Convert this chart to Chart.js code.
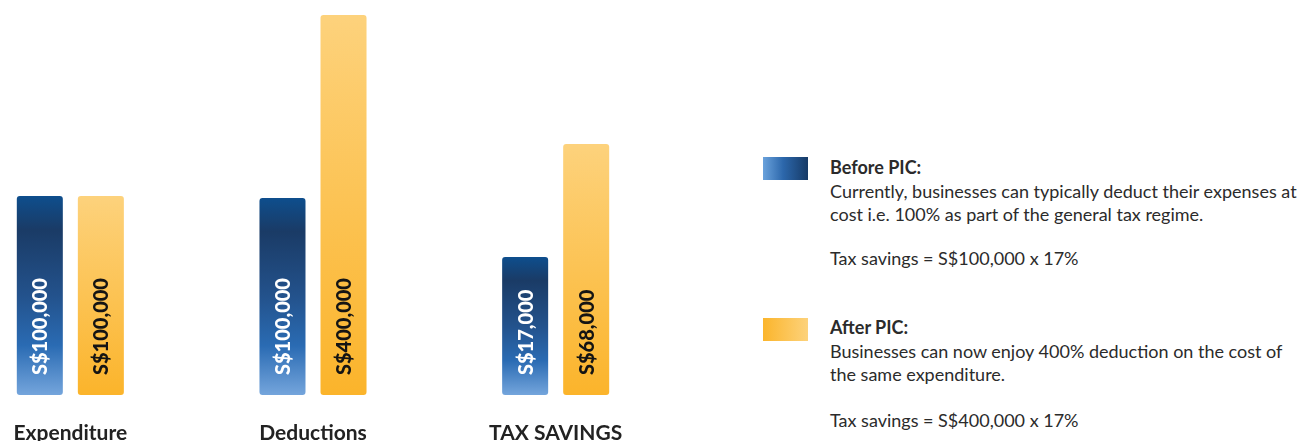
<!DOCTYPE html>
<html>
<head>
<meta charset="utf-8">
<script src="https://cdn.jsdelivr.net/npm/chart.js@4.4.1/dist/chart.umd.min.js"></script>
<style>
  html, body { margin:0; padding:0; width:1302px; height:441px; overflow:hidden; background:#fff; }
  #wrap { position:absolute; left:-51px; top:0; width:728px; height:441px; }
  .ln { position:absolute; left:830px; font-family: Lato, "Open Sans", sans-serif; font-size:18px; line-height:24px; color:#2b2b2b; white-space:nowrap; }
  .ln.b { font-weight:700; }
  .sw { position:absolute; left:763px; width:45px; height:23px; }
</style>
</head>
<body>
<div id="wrap"><canvas id="c" width="728" height="441"></canvas></div>

<div class="sw" style="top:157px; background:linear-gradient(to right,#6aa2dc,#2c67ab 45%,#163a66);"></div>
<div class="sw" style="top:318px; background:linear-gradient(to right,#fbb52c,#fdd27b);"></div>
<div id="legend"></div>

<script>
// Categories
const categories = ['Expenditure', 'Deductions', 'TAX SAVINGS'];
// Values shown on the bars (S$)
const beforeValues = [100000, 100000, 17000];
const afterValues  = [100000, 400000, 68000];
// Drawn bar heights (the infographic is not to scale)
const beforeHeights = [199, 197, 138];
const afterHeights  = [199, 380, 251];
const seriesNames = ['Before PIC', 'After PIC'];
// Legend texts
const beforeText = ['Before PIC:', 'Currently, businesses can typically deduct their expenses at', 'cost i.e. 100% as part of the general tax regime.', 'Tax savings = S$100,000 x 17%'];
const afterText  = ['After PIC:', 'Businesses can now enjoy 400% deduction on the cost of', 'the same expenditure.', 'Tax savings = S$400,000 x 17%'];

function legendBlock(lines, baselines) {
  const host = document.getElementById('legend');
  lines.forEach((t, i) => {
    const d = document.createElement('div');
    d.className = 'ln' + (i === 0 ? ' b' : '');
    d.style.top = (baselines[i] - 19) + 'px';
    d.textContent = t;
    host.appendChild(d);
  });
}
legendBlock(beforeText, [174, 198, 221, 265]);
legendBlock(afterText, [334, 358, 381, 427]);

const fmt = v => 'S$' + v.toLocaleString('en-US');

function vGrad(ctx, stops) {
  const chart = ctx.chart;
  const area = chart.chartArea;
  if (!area || ctx.type !== 'data') return stops[0][1];
  const y = chart.scales.y;
  const top = y.getPixelForValue(ctx.raw);
  const bot = y.getPixelForValue(0);
  const g = chart.ctx.createLinearGradient(0, top, 0, bot);
  stops.forEach(s => g.addColorStop(s[0], s[1]));
  return g;
}
const blueStops = [[0,'#0e4e8d'],[0.17,'#1a3b66'],[0.5,'#23528c'],[0.75,'#2a6bb3'],[1,'#74a5dc']];
const orangeStops = [[0,'#fdd27c'],[1,'#fbb42b']];

const labelPlugin = {
  id: 'barLabels',
  afterDatasetsDraw(chart) {
    const c = chart.ctx;
    const sets = [beforeValues, afterValues];
    const colors = ['#ffffff', '#141414'];
    chart.data.datasets.forEach((ds, di) => {
      chart.getDatasetMeta(di).data.forEach((bar, i) => {
        c.save();
        c.translate(bar.x, bar.base - 20);
        c.rotate(-Math.PI / 2);
        c.font = '900 20px Lato, "Open Sans", sans-serif';
        c.fillStyle = colors[di];
        c.textAlign = 'left';
        c.textBaseline = 'middle';
        c.fillText(fmt(sets[di][i]), 0, 1);
        c.restore();
      });
    });
  }
};

new Chart(document.getElementById('c'), {
  type: 'bar',
  data: {
    labels: categories,
    datasets: [
      { label: seriesNames[0], data: beforeHeights, backgroundColor: ctx => vGrad(ctx, blueStops), borderRadius: 3, borderSkipped: false, clip: false },
      { label: seriesNames[1], data: afterHeights, backgroundColor: ctx => vGrad(ctx, orangeStops), borderRadius: 3, borderSkipped: false, clip: false }
    ]
  },
  options: {
    responsive: false,
    animation: false,
    devicePixelRatio: 1,
    layout: { padding: 0 },
    categoryPercentage: 0.503,
    barPercentage: 0.754,
    plugins: { legend: { display: false }, tooltip: { enabled: false } },
    scales: {
      x: {
        offset: true,
        grid: { display: false, drawTicks: false },
        border: { display: false },
        ticks: { padding: 26, color: '#222222', font: { family: 'Lato, "Open Sans", sans-serif', size: 21, weight: 'bold' }, maxRotation: 0 },
        afterFit(scale) { scale.height = 46; }
      },
      y: { display: false, min: 0, max: 395 }
    }
  },
  plugins: [labelPlugin]
});
</script>
</body>
</html>
